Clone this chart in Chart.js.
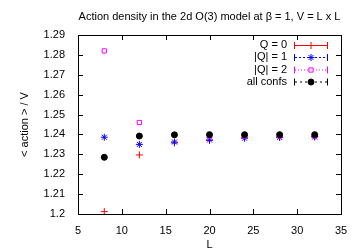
<!DOCTYPE html>
<html>
<head>
<meta charset="utf-8">
<script src="https://cdn.jsdelivr.net/npm/chart.js@4"></script>
<style>
  html, body { margin: 0; padding: 0; background: #fff; }
  #wrap { width: 359px; height: 252px; }
</style>
</head>
<body>
<div id="wrap"><canvas id="grafico" width="359" height="252"></canvas></div>
<script>
// dados
const tamanhos = [8, 12, 16, 20, 24, 28, 32]; // L
const q0 = [1.2012, 1.2297, 1.2357, 1.2370, 1.2386, 1.2388, 1.2390];
const q1 = [1.2386, 1.2350, 1.2362, 1.2372, 1.2381, 1.2385, 1.2387];
const q2 = [1.2820, 1.2460, 1.2399, 1.2391, 1.2392, 1.2392, 1.2392];
const todas = [1.2285, 1.2392, 1.2398, 1.2399, 1.2399, 1.2399, 1.2399];
const xTicks = [5, 10, 15, 20, 25, 30, 35];
const yTicks = [1.2, 1.21, 1.22, 1.23, 1.24, 1.25, 1.26, 1.27, 1.28, 1.29];

const fonte = "'Liberation Sans', Arial, sans-serif";

function pontos(valores) {
  return tamanhos.map((l, i) => ({ x: l, y: valores[i] }));
}

const series = [
  { label: 'Q = 0', data: pontos(q0), cor: '#ff0000', estilo: 'cross', raio: 3.5, dash: [], order: 4 },
  { label: '|Q| = 1', data: pontos(q1), cor: '#0000ff', estilo: 'star', raio: 3.5, dash: [2, 2], order: 3 },
  { label: '|Q| = 2', data: pontos(q2), cor: '#ff00ff', estilo: 'rect', raio: 3, dash: [1, 2], order: 2 },
  { label: 'all confs', data: pontos(todas), cor: '#000000', estilo: 'circle', raio: 3, dash: [2, 3], order: 1 }
];

// caixa, ticks internos, titulo e legenda
const moldura = {
  id: 'moldura',
  afterDraw(chart) {
    const ctx = chart.ctx;
    const a = chart.chartArea;
    const sx = chart.scales.x, sy = chart.scales.y;
    ctx.save();
    ctx.strokeStyle = '#000';
    ctx.lineWidth = 1;
    ctx.strokeRect(Math.round(a.left) + 0.5, Math.round(a.top) + 0.5, Math.round(a.right - a.left), Math.round(a.bottom - a.top));
    ctx.beginPath();
    xTicks.forEach(v => {
      const px = Math.round(sx.getPixelForValue(v)) + 0.5;
      ctx.moveTo(px, a.bottom); ctx.lineTo(px, a.bottom - 5);
      ctx.moveTo(px, a.top); ctx.lineTo(px, a.top + 5);
    });
    yTicks.forEach(v => {
      const py = Math.round(sy.getPixelForValue(v)) + 0.5;
      ctx.moveTo(a.left, py); ctx.lineTo(a.left + 5, py);
      ctx.moveTo(a.right, py); ctx.lineTo(a.right - 5, py);
    });
    ctx.stroke();

    // titulo
    ctx.fillStyle = '#000';
    ctx.font = '11px ' + fonte;
    ctx.textAlign = 'center';
    ctx.textBaseline = 'middle';
    ctx.fillText('Action density in the 2d O(3) model at \u03b2 = 1, V = L x L', (a.left + a.right) / 2, 17);

    // legenda
    const ys = [45, 57, 69.5, 81.5];
    series.forEach((s, i) => {
      const y = ys[i];
      ctx.fillStyle = '#000';
      ctx.textAlign = 'right';
      ctx.fillText(s.label, 287, y);
      ctx.strokeStyle = s.cor;
      ctx.fillStyle = s.cor;
      ctx.setLineDash(s.dash);
      ctx.beginPath();
      ctx.moveTo(295, y + 0.5); ctx.lineTo(327, y + 0.5);
      ctx.stroke();
      ctx.setLineDash([]);
      ctx.beginPath();
      ctx.moveTo(294.5, y - 3); ctx.lineTo(294.5, y + 4);
      ctx.moveTo(327.5, y - 3); ctx.lineTo(327.5, y + 4);
      ctx.stroke();
      if (s.estilo === 'rect') ctx.fillStyle = '#fff';
      Chart.helpers.drawPoint(ctx, {
        pointStyle: s.estilo, radius: s.raio, borderWidth: 1, rotation: 0
      }, 311, y + 0.5);
    });
    ctx.restore();
  }
};

new Chart(document.getElementById('grafico'), {
  type: 'scatter',
  data: {
    datasets: series.map(s => ({
      label: s.label,
      data: s.data,
      order: s.order,
      pointStyle: s.estilo,
      pointRadius: s.raio,
      pointHoverRadius: s.raio,
      borderColor: s.cor,
      backgroundColor: s.estilo === 'circle' ? s.cor : 'rgba(0,0,0,0)',
      pointBorderWidth: 1
    }))
  },
  options: {
    responsive: false,
    animation: false,
    layout: { padding: { left: 18, right: 18, top: 35, bottom: 0 } },
    plugins: { legend: { display: false }, title: { display: false }, tooltip: { enabled: false } },
    scales: {
      x: {
        type: 'linear', min: 5, max: 35,
        afterBuildTicks: s => { s.ticks = xTicks.map(v => ({ value: v })); },
        afterFit: s => { s.height = 38; },
        grid: { display: false },
        border: { display: false },
        ticks: { color: '#000', font: { family: fonte, size: 11 }, padding: 2 },
        title: { display: true, text: 'L', color: '#000', font: { family: fonte, size: 11 }, padding: { top: 0, bottom: 0 } }
      },
      y: {
        type: 'linear', min: 1.2, max: 1.29,
        afterBuildTicks: s => { s.ticks = yTicks.map(v => ({ value: v })); },
        afterFit: s => { s.width = 60; },
        grid: { display: false },
        border: { display: false },
        ticks: { color: '#000', font: { family: fonte, size: 11 }, padding: 5, callback: v => String(+v.toFixed(2)) },
        title: { display: true, text: '< action > / V', color: '#000', font: { family: fonte, size: 11 }, padding: { top: 0, bottom: 0 } }
      }
    }
  },
  plugins: [moldura]
});
</script>
</body>
</html>
